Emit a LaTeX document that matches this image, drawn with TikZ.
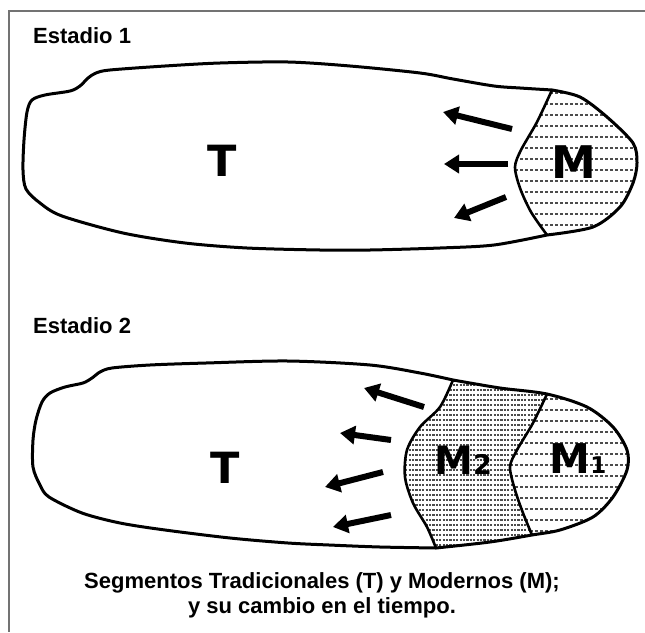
\documentclass[tikz,border=0pt]{standalone}
\usepackage{fontspec}
\setmainfont{Liberation Sans}
\newfontfamily\bigfont{DejaVu Sans}
\usetikzlibrary{arrows.meta}
\begin{document}
\begin{tikzpicture}[x=1pt,y=-1pt,
  frameline/.style={line width=2pt, draw=black!55},
  outline/.style={line width=3pt, line join=round, line cap=round},
  divider/.style={line width=2.6pt, line join=round, line cap=round},
  bigarrow/.style={line width=6pt, -{Triangle[length=15pt,width=18pt]}},
  dashrow/.style={line width=2.2pt, black!70, dash pattern=on 3pt off 2pt},
  denserow/.style={line width=2pt, black!70, dash pattern=on 2.2pt off 1.2pt},
  heading/.style={font=\fontsize{22}{25}\selectfont\bfseries, inner sep=0pt},
  letter/.style={font=\bigfont\bfseries\fontsize{43}{43}\selectfont, inner sep=0pt},
]
\useasboundingbox (0,0) rectangle (645,632);
\fill[white] (0,0) rectangle (645,632);
\draw[frameline] (645,10.5) -- (8.5,10.5) -- (8.5,632);

% ---------------- Stage 1 ----------------
\begin{scope}
  \clip plot[smooth] coordinates {(552,90) (537,122) (521,150) (515,167) (520,188) (531,212) (547,235)}
     -- plot[smooth] coordinates {(547,235) (593,227) (620,207) (633,183) (637,163) (633,143) (607,117) (580,97) (552,90)} -- cycle;
  \foreach \y in {93,104,...,236} \draw[dashrow] (505,\y) -- (645,\y);
\end{scope}
\draw[outline] plot[smooth] coordinates {(552,90) (520,88) (494,86) (453,79) (420,73) (350,66) (288,62) (220,63) (165,66) (110,70) (96,73) (88,78) (80,86) (70,91) (45,95) (32,100) (27,112) (24,140) (23,170) (26,189) (40,203) (62,216) (123,233) (185,243) (247,248) (320,250) (370,250) (440,248) (494,245) (547,235)}
   -- plot[smooth] coordinates {(547,235) (593,227) (620,207) (633,183) (637,163) (633,143) (607,117) (580,97) (552,90)};
\draw[divider] plot[smooth] coordinates {(552,90) (537,122) (521,150) (515,167) (520,188) (531,212) (547,235)};

\coordinate (a1t) at (512,129); \coordinate (a1h) at (443,112);
\coordinate (a2t) at (508,164); \coordinate (a2h) at (444,164);
\coordinate (a3t) at (506,197); \coordinate (a3h) at (454,218);
\draw[bigarrow] (a1t) -- (a1h);
\draw[bigarrow] (a2t) -- (a2h);
\draw[bigarrow] (a3t) -- (a3h);

\node[heading, anchor=base west] (est1) at (33,43) {Estadio 1};
\node[letter, anchor=base] (t1) at (222,176) {T};
\node[letter, anchor=base, font=\bigfont\bfseries\fontsize{45}{45}\selectfont] (m1) at (574,178) {M};

% ---------------- Stage 2 ----------------
\begin{scope}
  \clip plot[smooth] coordinates {(453,380) (500,388) (547,394)}
     -- plot[smooth] coordinates {(547,394) (533,423) (517,450) (510,467) (515,490) (523,513) (532,535)}
     -- plot[smooth] coordinates {(532,535) (490,542) (436,548)}
     -- plot[smooth] coordinates {(436,548) (427,527) (413,503) (405,477) (407,450) (420,427) (440,407) (453,380)} -- cycle;
  \foreach \y in {380,385,...,550} \draw[denserow] (395,\y) -- (560,\y);
\end{scope}
\begin{scope}
  \clip plot[smooth] coordinates {(547,394) (587,407) (613,427) (627,450) (627,470) (613,497) (593,517) (560,530) (532,535)}
     -- plot[smooth] coordinates {(532,535) (523,513) (515,490) (510,467) (517,450) (533,423) (547,394)} -- cycle;
  \foreach \y in {399,410,...,540} \draw[dashrow] (500,\y) -- (645,\y);
\end{scope}
\draw[outline] plot[smooth] coordinates {(453,380) (420,373) (370,365) (288,361) (206,363) (150,365) (112,368) (100,372) (92,378) (83,383) (65,387) (50,393) (42,402) (36,420) (33,440) (33,467) (40,485) (49,497) (82,513) (120,523) (165,530) (230,538) (288,543) (329,545) (380,547) (436,548)}
   -- plot[smooth] coordinates {(436,548) (490,542) (532,535) (560,530) (593,517) (613,497) (627,470) (627,450) (613,427) (587,407) (547,394) (500,388) (453,380)};
\draw[divider] plot[smooth] coordinates {(453,380) (440,407) (420,427) (407,450) (405,477) (413,503) (427,527) (436,548)};
\draw[divider] plot[smooth] coordinates {(547,394) (533,423) (517,450) (510,467) (515,490) (523,513) (532,535)};

\coordinate (b1t) at (424,407); \coordinate (b1h) at (364,388);
\coordinate (b2t) at (391,440); \coordinate (b2h) at (340,433);
\coordinate (b3t) at (383,472); \coordinate (b3h) at (325,487);
\coordinate (b4t) at (391,515); \coordinate (b4h) at (333,527);
\draw[bigarrow] (b1t) -- (b1h);
\draw[bigarrow] (b2t) -- (b2h);
\draw[bigarrow] (b3t) -- (b3h);
\draw[bigarrow] (b4t) -- (b4h);

\node[heading, anchor=base west] (est2) at (33,333) {Estadio 2};
\node[letter, anchor=base] (t2) at (225,483) {T};
\node[letter, anchor=base, font=\bigfont\bfseries\fontsize{39}{39}\selectfont] (mm2) at (463,474) {M\fontsize{27}{27}\selectfont 2};
\node[letter, anchor=base, font=\bigfont\bfseries\fontsize{41}{41}\selectfont] (mm1) at (578,473) {M\fontsize{23}{23}\selectfont 1};

% ---------------- Caption ----------------
\node[heading, anchor=base] (cap1) at (322,588) {Segmentos Tradicionales (T) y Modernos (M);};
\node[heading, anchor=base] (cap2) at (322,613) {y su cambio en el tiempo.};
\end{tikzpicture}
\end{document}
